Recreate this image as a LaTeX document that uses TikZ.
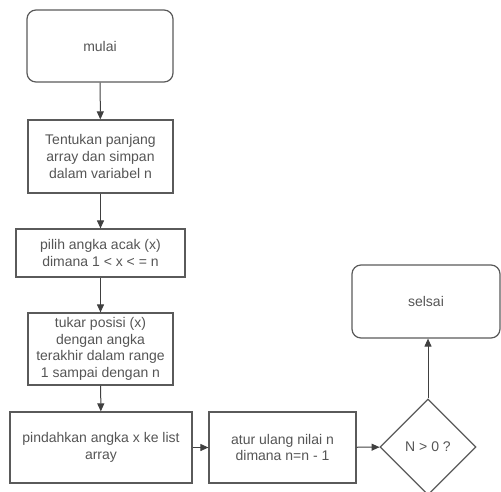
\documentclass[tikz,border=0pt]{standalone}
\usepackage{fontspec}
\setmainfont{Liberation Sans}
\usetikzlibrary{shapes.geometric, arrows.meta}

\definecolor{garis}{HTML}{5A5A5A}
\definecolor{teks}{HTML}{555555}

\tikzset{
  kotak/.style={draw=garis, line width=1.2pt, text=teks, align=center,
    inner sep=0pt, font=\fontsize{14}{16.7}\selectfont},
  bulat/.style={kotak, rounded corners=9pt},
  belah/.style={kotak, diamond, aspect=1, minimum width=96pt, minimum height=96pt},
  panah/.style={draw=black!75, line width=1pt, -{Triangle[length=8pt, width=7pt]}}
}

\begin{document}
\begin{tikzpicture}[x=1pt, y=1pt]
  \useasboundingbox (0, 0) rectangle (501, -491);
  \node[bulat, minimum width=146pt, minimum height=72pt] (mulai) at (100, -46) {mulai};
  \node[kotak, minimum width=145pt, minimum height=73pt] (tentukan) at (100.5, -156.5)
    {Tentukan panjang\\array dan simpan\\dalam variabel n};
  \node[kotak, minimum width=169pt, minimum height=48pt] (pilih) at (100.5, -253)
    {pilih angka acak (x)\\dimana 1 < x < = n};
  \node[kotak, minimum width=145pt, minimum height=72pt] (tukar) at (100.5, -349)
    {tukar posisi (x)\\dengan angka\\terakhir dalam range\\1 sampai dengan n};
  \node[kotak, minimum width=182pt, minimum height=71pt] (pindah) at (101, -447.5)
    {pindahkan angka x ke list\\array};
  \node[kotak, minimum width=147pt, minimum height=71pt] (atur) at (282.5, -447.5)
    {atur ulang nilai n\\dimana n=n - 1};
  \node[belah] (cek) at (428, -447) {N > 0 ?};
  \node[bulat, minimum width=148pt, minimum height=73pt] (selsai) at (426, -301.5) {selsai};

  \draw[panah] (mulai) -- (tentukan);
  \draw[panah] (tentukan) -- (pilih);
  \draw[panah] (pilih) -- (tukar);
  \draw[panah] (tukar) -- (pindah);
  \draw[panah] (pindah) -- (atur);
  \draw[panah] (atur) -- (cek);
  \draw[panah] (cek.north) -- (cek.north |- selsai.south);
\end{tikzpicture}
\end{document}
